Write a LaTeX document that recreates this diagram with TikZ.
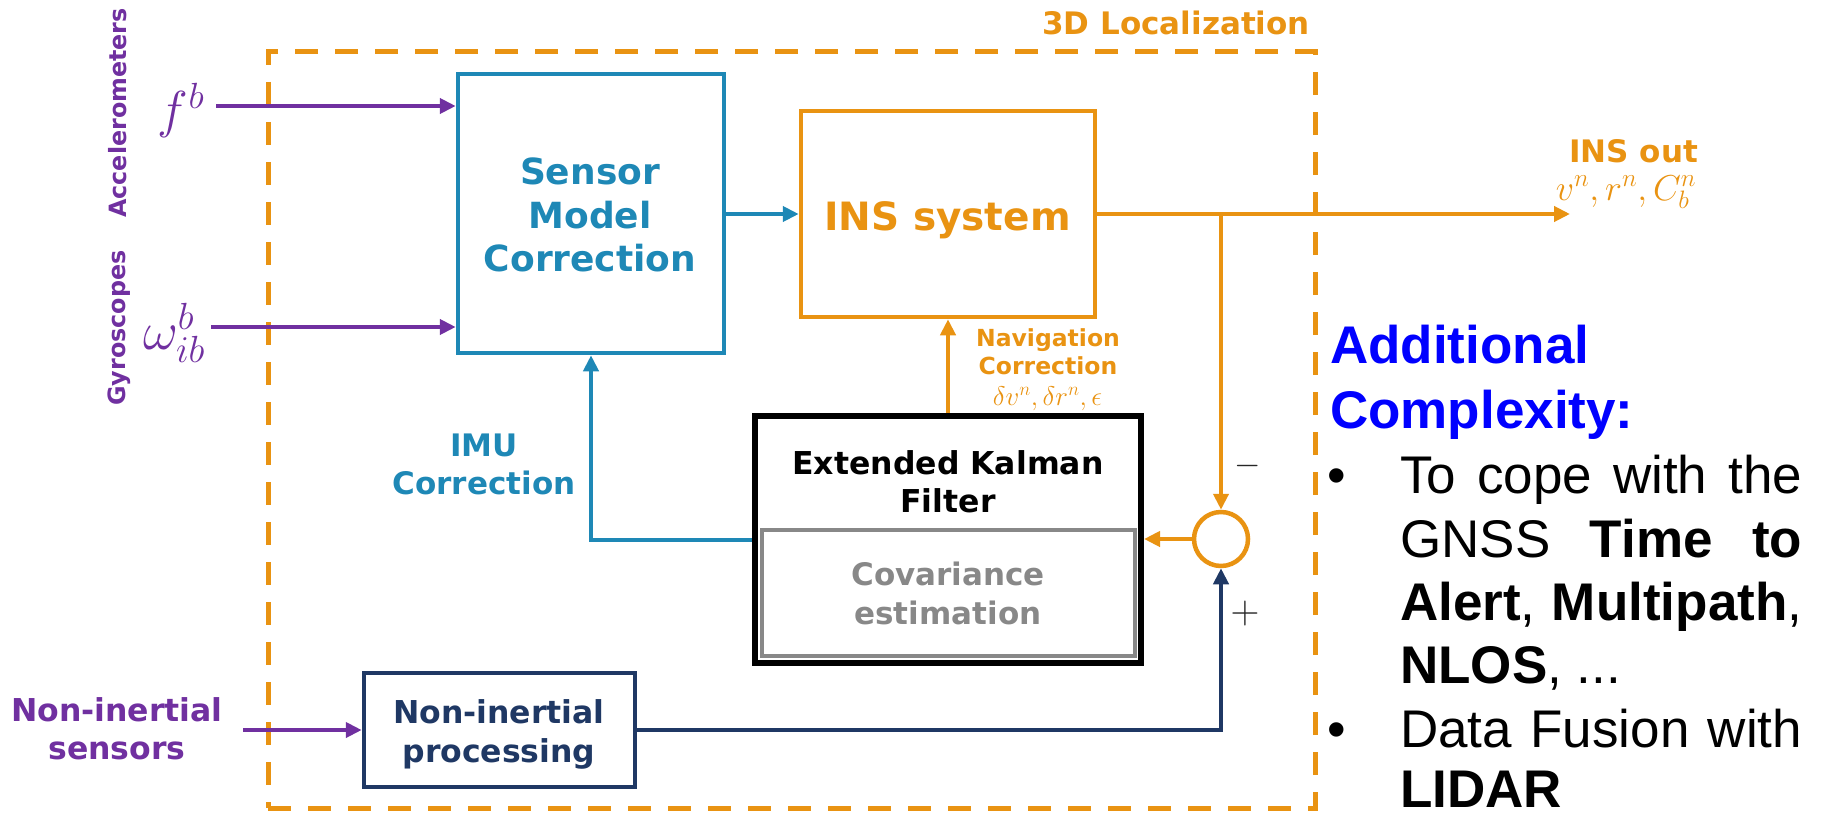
\RequirePackage{fix-cm}
\documentclass[tikz,border=0pt]{standalone}
\usepackage{amsmath}
\usepackage{fontspec}
\setmainfont{DejaVu Sans}
\newfontfamily\arialfont{Liberation Sans}
\usetikzlibrary{arrows.meta,calc}

\definecolor{sysorange}{RGB}{233,147,18}
\definecolor{sensblue}{RGB}{30,136,182}
\definecolor{sigpurple}{RGB}{112,48,160}
\definecolor{procnavy}{RGB}{31,56,100}
\definecolor{covgray}{RGB}{136,136,136}
\definecolor{notesblue}{RGB}{0,0,255}

\newcommand\fsz[2]{\fontsize{#1}{#2}\selectfont}

\tikzset{
  blk/.style={draw, rectangle, inner sep=0pt, line width=4.5pt},
  lbl/.style={inner sep=0pt, align=center},
  conn/.style={line width=4pt, -{Triangle[length=16pt,width=15pt]}},
  notes/.style={inner sep=0pt, anchor=base west, font=\arialfont\fsz{53}{64}},
}

\begin{document}
\begin{tikzpicture}[x=1pt,y=-1pt]
\useasboundingbox (0,0) rectangle (1825,816);

% dashed frame of the localization block
\node[draw=sysorange, line width=5pt, dash pattern=on 23pt off 17pt,
      minimum width=1047pt, minimum height=756pt, inner sep=0pt] (loc) at (791.5,430) {};
\node[lbl, anchor=base east, text=sysorange, font=\bfseries\fsz{31}{36}] (loctitle) at (1310,35) {3D Localization};

% processing blocks
\node[blk, draw=sensblue, minimum width=266pt, minimum height=279pt] (smc) at (591,213.5) {};
\node[blk, draw=sysorange, minimum width=294pt, minimum height=206pt] (ins) at (948,214) {};
\node[blk, draw=black, line width=6pt, minimum width=386pt, minimum height=247pt] (ekf) at (948,539.5) {};
\node[blk, draw=covgray, line width=4pt, minimum width=373pt, minimum height=126pt] (cov) at (948.5,593) {};
\node[blk, draw=procnavy, minimum width=271pt, minimum height=114pt] (nip) at (499.5,730) {};
\node[circle, draw=sysorange, line width=4.5pt, minimum size=54pt, inner sep=0pt] (sum) at (1221,539) {};

% block texts
\node[lbl, text=sensblue, font=\bfseries\fsz{36}{43.5}] (smctext) at (590,215.2) {Sensor\\Model\\Correction};
\node[lbl, anchor=base, text=sysorange, font=\bfseries\fsz{39}{44}] (instext) at (947.5,230) {INS system};
\node[lbl, text=black, font=\bfseries\fsz{31.5}{38}] (ekftext) at (948,482) {Extended Kalman\\Filter};
\node[lbl, text=covgray, font=\bfseries\fsz{31}{39}] (covtext) at (948,593.7) {Covariance\\estimation};
\node[lbl, text=procnavy, font=\bfseries\fsz{31.5}{39}] (niptext) at (499,734.2) {Non-inertial\\processing};

% sensor inputs
\node[lbl, rotate=90, text=sigpurple, font=\bfseries\fsz{23.8}{28}] (acc) at (118,113) {Accelerometers};
\node[lbl, rotate=90, text=sigpurple, font=\bfseries\fsz{23.8}{28}] (gyr) at (119.5,328) {Gyroscopes};
\node[lbl, text=sigpurple, font=\fsz{52}{56}] (fb) at (181,110) {$f^{b}$};
\node[lbl, text=sigpurple, font=\fsz{54}{58}] (wib) at (174,333) {$\omega_{ib}^{b}$};
\node[lbl, text=sigpurple, font=\bfseries\fsz{31.5}{38}] (nis) at (117,729) {Non-inertial\\sensors};

\coordinate (fin) at (216,106);
\coordinate (win) at (211,327);
\coordinate (nisin) at (243,730);
\coordinate (outend) at (1570,214);

% signal flow
\draw[conn, sigpurple] (fin) -- (fin -| smc.west);
\draw[conn, sigpurple] (win) -- (win -| smc.west);
\draw[conn, sigpurple] (nisin) -- (nip.west);
\draw[conn, sensblue] (ins.west -| smc.east) -- (ins.west);
\draw[conn, sysorange] (ins.east) -- (outend);
\draw[conn, sysorange] (ins.east -| sum.north) -- (sum.north);
\draw[conn, sysorange] (sum.west) -- (sum.west -| ekf.east);
\draw[conn, sysorange] (ekf.north) -- (ins.south);
\draw[conn, sensblue] (ekf.west) -| (smc.south);
\draw[conn, procnavy] (nip.east) -| (sum.south);

% connector labels
\node[lbl, anchor=base, text=sysorange, font=\bfseries\fsz{31}{36}] (outlbl) at (1633.5,162) {INS out};
\node[lbl, anchor=base, text=sysorange, font=\fsz{36}{40}] (outvars) at (1626,200) {$v^{n}, r^{n}, C_{b}^{n}$};
\node[lbl, text=sysorange, font=\bfseries\fsz{23.5}{28}] (navlbl) at (1048,352) {Navigation\\Correction};
\node[lbl, anchor=base, text=sysorange, font=\fsz{27}{32}] (navvars) at (1047.5,405) {$\delta v^{n}, \delta r^{n}, \epsilon$};
\node[lbl, text=sensblue, font=\bfseries\fsz{31}{38}] (imulbl) at (484,464.7) {IMU\\Correction};
\node[lbl, text=black!85, font=\fsz{34}{36}] (minus) at (1248,466) {$-$};
\node[lbl, text=black!85, font=\fsz{40}{44}] (plus) at (1245,613) {$+$};

% notes on the right
\node[notes, font=\arialfont\bfseries\fsz{53}{64}, text=notesblue] (add1) at (1330,363) {Additional};
\node[notes, font=\arialfont\bfseries\fsz{53}{64}, text=notesblue] (add2) at (1330,428) {Complexity:};
\node[notes, anchor=base] (dot1) at (1337,493) {•};
\node[notes] (n1) at (1400,493) {\makebox[402pt][s]{To cope with the}};
\node[notes] (n2) at (1400,557) {\makebox[402pt][s]{GNSS \textbf{Time to}}};
\node[notes] (n3) at (1400,620) {\makebox[402pt][s]{\textbf{Alert}, \textbf{Multipath},}};
\node[notes] (n4) at (1400,683) {\textbf{NLOS}, ...};
\node[notes, anchor=base] (dot2) at (1337,747) {•};
\node[notes] (n5) at (1400,747) {\makebox[402pt][s]{Data Fusion with}};
\node[notes] (n6) at (1400,807) {\textbf{LIDAR}};
\end{tikzpicture}
\end{document}
